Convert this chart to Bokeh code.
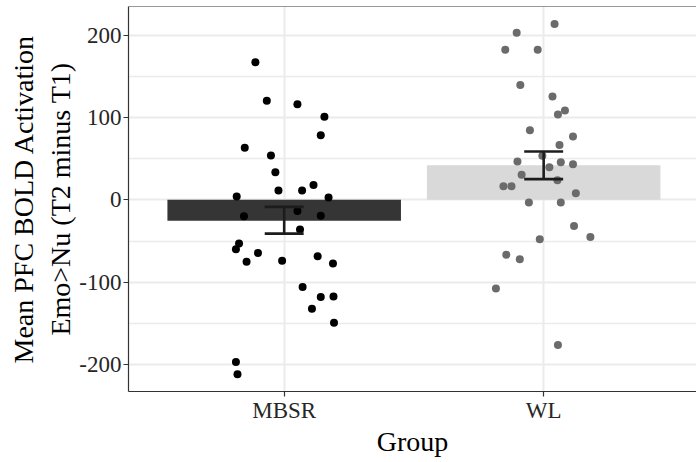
from bokeh.plotting import figure
from bokeh.models import Range1d, FixedTicker, Span, ColumnDataSource
from bokeh.embed import file_html
from bokeh.resources import INLINE

groups = ["MBSR", "WL"]
group_pos = [1, 2]
bar_means = [-25.5, 42.0]
err_low = [-41.0, 25.2]
err_high = [-8.5, 58.7]
bar_colors = ["#353535", "#d9d9d9"]

mbsr_values = [167.3, 120.3, 116.3, 100.9, 78.6, 63.2, 53.8, 33.6, 18.2, 11.3, 11.3, 4.0, 2.8,
               -19.8, -13.4, -19.4, -36.0, -53.0, -60.0, -64.4, -75.3, -74.0, -68.4, -77.4,
               -106.0, -118.0, -117.5, -132.4, -149.4, -197.0, -211.8]
mbsr_jitter = [-0.111, -0.067, 0.051, 0.155, 0.141, -0.152, -0.051, -0.034, 0.113, -0.022, 0.069,
               -0.183, 0.171, -0.155, 0.051, 0.141, 0.061, -0.174, -0.186, -0.101, -0.145, -0.008,
               0.129, 0.188, 0.071, 0.141, 0.190, 0.107, 0.192, -0.186, -0.180]
wl_values = [213.5, 202.9, 182.3, 182.3, 139.4, 125.5, 108.5, 103.6, 84.7, 76.9, 66.8, 53.5, 46.5,
             45.8, 43.4, 39.7, 30.4, 23.9, 16.6, 16.6, 8.1, -3.3, -3.3, -31.6, -45.0, -47.8,
             -66.8, -72.0, -107.8, -176.2]
wl_jitter = [0.042, -0.104, -0.148, -0.023, -0.090, 0.034, 0.082, 0.055, -0.053, 0.113, 0.061,
             -0.005, -0.101, 0.066, 0.113, 0.022, -0.085, 0.053, -0.155, -0.124, 0.124, -0.057,
             0.066, 0.117, 0.180, -0.015, -0.144, -0.092, -0.184, 0.055]
y_ticks = [-200, -100, 0, 100, 200]
y_minor = [-150, -50, 50, 150]

FONT = "Liberation Serif"

p = figure(width=696, height=462, output_backend="svg", toolbar_location=None,
           x_range=Range1d(0.4, 2.589), y_range=Range1d(-232.8, 234.9),
           min_border_left=128, min_border_top=6, min_border_bottom=71, min_border_right=0)
p.outline_line_color = None
p.background_fill_color = "white"

# grid
p.xgrid.ticker = FixedTicker(ticks=group_pos)
p.ygrid.ticker = FixedTicker(ticks=y_ticks, minor_ticks=y_minor)
for g in (p.xgrid, p.ygrid):
    g.grid_line_color = "#ebebeb"
    g.grid_line_width = 2.0
p.ygrid.minor_grid_line_color = "#ebebeb"
p.ygrid.minor_grid_line_width = 1.7

# bars
bar_src = ColumnDataSource(dict(x=group_pos, top=bar_means, color=bar_colors))
p.vbar(x="x", top="top", bottom=0, width=0.9, fill_color="color", line_color=None, source=bar_src)

# points
mx = [group_pos[0] + j for j in mbsr_jitter]
wx = [group_pos[1] + j for j in wl_jitter]
p.scatter(mx, mbsr_values, size=8, fill_color="black", line_color=None)
p.scatter(wx, wl_values, size=8, fill_color="#6b6b6b", line_color=None)

# error bars
p.segment(x0=group_pos, y0=err_low, x1=group_pos, y1=err_high, line_color="#1c1c1c", line_width=2.6)
cap = 0.075
p.segment(x0=[g - cap for g in group_pos], y0=err_low, x1=[g + cap for g in group_pos], y1=err_low,
          line_color="#1c1c1c", line_width=2.6)
p.segment(x0=[g - cap for g in group_pos], y0=err_high, x1=[g + cap for g in group_pos], y1=err_high,
          line_color="#1c1c1c", line_width=2.6)

# top border
p.add_layout(Span(location=234.9, dimension="width", line_color="#333333", line_width=1.2))

# axes
p.xaxis.ticker = FixedTicker(ticks=group_pos)
p.xaxis.major_label_overrides = {1: "MBSR", 2: "WL"}
p.yaxis.ticker = FixedTicker(ticks=y_ticks)
p.yaxis.major_label_overrides = {-200: "-200", -100: "-100"}
for ax in (p.xaxis, p.yaxis):
    ax.axis_line_color = "#333333"
    ax.axis_line_width = 1.2
    ax.major_tick_line_color = "#333333"
    ax.major_tick_line_width = 1.2
    ax.major_tick_out = 5
    ax.major_tick_in = 0
    ax.minor_tick_line_color = None
    ax.major_label_text_font = FONT
    ax.major_label_text_font_size = "23px"
    ax.major_label_text_color = "#262626"
    ax.axis_label_text_font = FONT
    ax.axis_label_text_font_size = "28px"
    ax.axis_label_text_font_style = "normal"
    ax.axis_label_text_color = "black"
p.yaxis.major_label_standoff = 2
p.xaxis.major_label_standoff = 1
p.xaxis.axis_label = "Group"
p.yaxis.axis_label = "Mean PFC BOLD Activation\nEmo>Nu (T2 minus T1)"
p.yaxis.axis_label_standoff = 0
p.xaxis.axis_label_standoff = 0

open("out.html", "w").write(file_html(p, INLINE))
